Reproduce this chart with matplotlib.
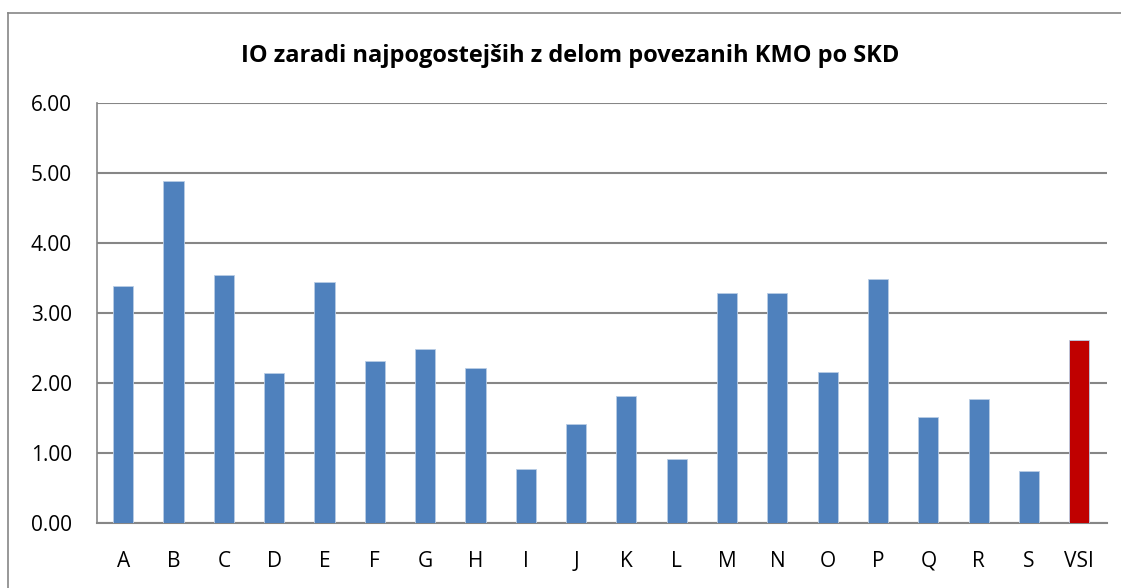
import numpy as np
from matplotlib import pyplot as plt
from matplotlib.lines import Line2D

categories = ['A', 'B', 'C', 'D', 'E', 'F', 'G', 'H', 'I', 'J',
              'K', 'L', 'M', 'N', 'O', 'P', 'Q', 'R', 'S', 'VSI']
values = [3.39, 4.89, 3.54, 2.15, 3.44, 2.32, 2.48, 2.22, 0.77, 1.41,
          1.81, 0.92, 3.28, 3.28, 2.16, 3.49, 1.52, 1.77, 0.74, 2.62]
title = 'IO zaradi najpogostejših z delom povezanih KMO po SKD'

plt.rcParams['font.family'] = ['Open Sans', 'DejaVu Sans']

W, H = 1121, 588
fig = plt.figure(figsize=(W / 100, H / 100), dpi=100)
ax = fig.add_axes([97 / W, 1 - 523 / H, (1107 - 97) / W, (523 - 103) / H])

colors = ['#4F81BD'] * (len(categories) - 1) + ['#C00000']
x = np.arange(len(categories))
ax.bar(x, values, width=0.4, color=colors, edgecolor='#B9CDE5', linewidth=0.6, zorder=3)

ax.set_xlim(-0.52, len(categories) - 0.45)
ax.set_ylim(0, 6)
ax.set_yticks(np.arange(0, 7, 1))
ax.set_yticklabels([f'{v:.2f}' for v in range(7)], fontsize=15)
ax.set_xticks(x)
ax.set_xticklabels(categories, fontsize=15)
ax.tick_params(axis='x', length=0, pad=20)
ax.tick_params(axis='y', length=0, pad=18)

ax.grid(axis='y', color='#868686', linewidth=1.5, zorder=0)
for s in ['top', 'right']:
    ax.spines[s].set_visible(False)
ax.spines['left'].set_color('#868686')
ax.spines['bottom'].set_color('#868686')
ax.spines['left'].set_linewidth(1.2)
ax.spines['bottom'].set_linewidth(1.5)

fig.text(570 / W, 1 - 56 / H, title, ha='center', va='center', fontsize=17, fontweight='bold')

# outer chart border
fig.add_artist(Line2D([8 / W, 8 / W], [0, 1 - 13 / H], color='#868686', linewidth=1.2))
fig.add_artist(Line2D([8 / W, 1], [1 - 13 / H, 1 - 13 / H], color='#868686', linewidth=1.2))

plt.savefig('out.png', dpi=100)
